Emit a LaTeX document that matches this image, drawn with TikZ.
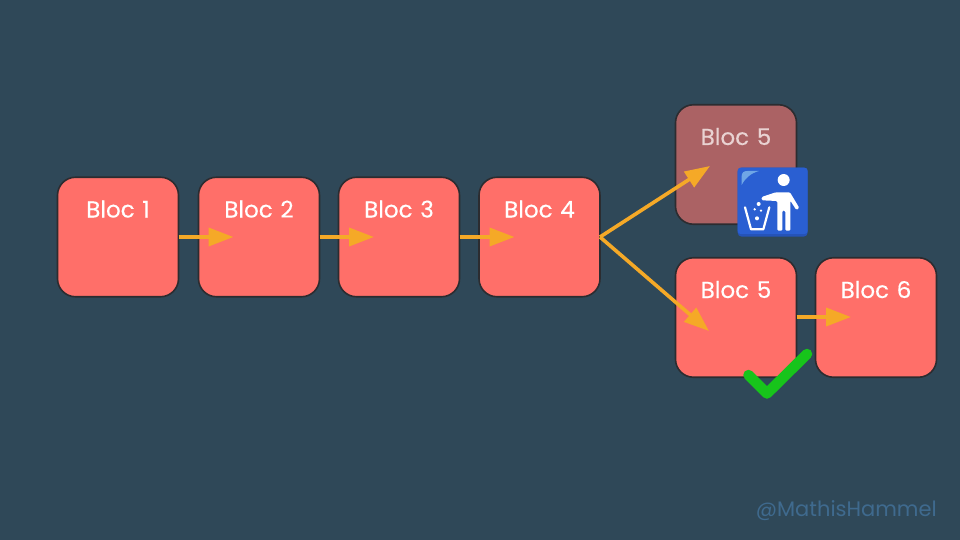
\documentclass[tikz,border=0pt]{standalone}
\usepackage{fontspec}
\setmainfont{Poppins}
\usetikzlibrary{arrows.meta}
\definecolor{bgc}{HTML}{2F4858}
\definecolor{boxc}{HTML}{FF6F69}
\definecolor{boxfaded}{HTML}{AB6264}
\definecolor{edgec}{HTML}{2C2C30}
\definecolor{arrowc}{HTML}{F5A927}
\definecolor{textfaded}{HTML}{E9D2D2}
\definecolor{markc}{HTML}{3F6A8E}
\definecolor{checkc}{HTML}{17C41B}
\definecolor{binblue}{HTML}{2A5FD2}
\definecolor{binedge}{HTML}{2553B8}
\definecolor{binshine}{HTML}{6FA6E6}
\tikzset{
  blockbox/.style={draw=edgec, line width=1.6pt, fill=boxc, rounded corners=18pt,
    minimum width=121pt, minimum height=119.5pt, inner sep=0pt, outer sep=0pt,
    text width=121pt, align=center, text height=40.25pt, text depth=79.25pt,
    text=white, font=\fontsize{23pt}{26pt}\selectfont\addfontfeatures{FakeBold=0.35}},
  fadedbox/.style={blockbox, fill=boxfaded, text=textfaded},
  flow/.style={draw=arrowc, line width=3.6pt, -{Triangle[length=25pt,width=18pt,fill=arrowc]}},
}
\begin{document}
\begin{tikzpicture}[x=1pt,y=-1pt]
\fill[bgc] (0,0) rectangle (960,540);
\useasboundingbox (0,0) rectangle (960,540);
\node[blockbox] (b1) at (118,237) {Bloc 1};
\node[blockbox] (b2) at (259,237) {Bloc 2};
\node[blockbox] (b3) at (399,237) {Bloc 3};
\node[blockbox] (b4) at (539.5,237) {Bloc 4};
\node[fadedbox] (b5a) at (736,164.5) {Bloc 5};
\node[blockbox] (b5b) at (736,317.5) {Bloc 5};
\node[blockbox] (b6) at (876,317.5) {Bloc 6};
\coordinate (t2) at (233.5,237);
\coordinate (t3) at (374,237);
\coordinate (t4) at (514.5,237);
\coordinate (t5a) at (710,166);
\coordinate (t5b) at (709,331);
\coordinate (t6) at (851,317);
\draw[flow] (b1.east) -- (t2);
\draw[flow] (b2.east) -- (t3);
\draw[flow] (b3.east) -- (t4);
\draw[flow] (b4.east) -- (t5a);
\draw[flow] (b4.east) -- (t5b);
\draw[flow] (b5b.east |- t6) -- (t6);
% bin icon
\begin{scope}[shift={(660,90)},x=0.3333pt,y=-0.3333pt]
\fill[binedge,rounded corners=4pt] (233,233) rectangle (443,440);
\fill[binblue,rounded corners=3pt] (233,233) rectangle (443,432);
\fill[binshine] (245,285) -- (245,258) .. controls (245,248) and (252,243) .. (262,243) -- (297,243) .. controls (272,250) and (256,264) .. (245,285) -- cycle;
\fill[white] (371,270) circle (6pt);
\fill[white,rounded corners=1.2pt] (347,307) -- (390,307) -- (418,354) -- (409,360) -- (391,332) -- (391,422) -- (376,422) -- (376,362) -- (367,362) -- (367,422) -- (352,422) -- (352,333) -- (305,331) -- (305,321) -- cycle;
\draw[white,line width=2.2pt,line join=round,line cap=round] (255,352) -- (273,418) -- (310,418) -- (328,352);
\fill[white] (296,342) circle (2pt) (284,358) circle (1.3pt) (303,362) circle (1.3pt) (291,385) circle (2pt);
\end{scope}
% check mark
\draw[checkc,line width=10.5pt,line cap=round,line join=round] (748.5,375) -- (767,393.5) -- (807,354);
\node[text=markc,font=\fontsize{21pt}{24pt}\selectfont,anchor=base east,inner sep=0pt] (mark) at (937,516) {@MathisHammel};
\end{tikzpicture}
\end{document}
